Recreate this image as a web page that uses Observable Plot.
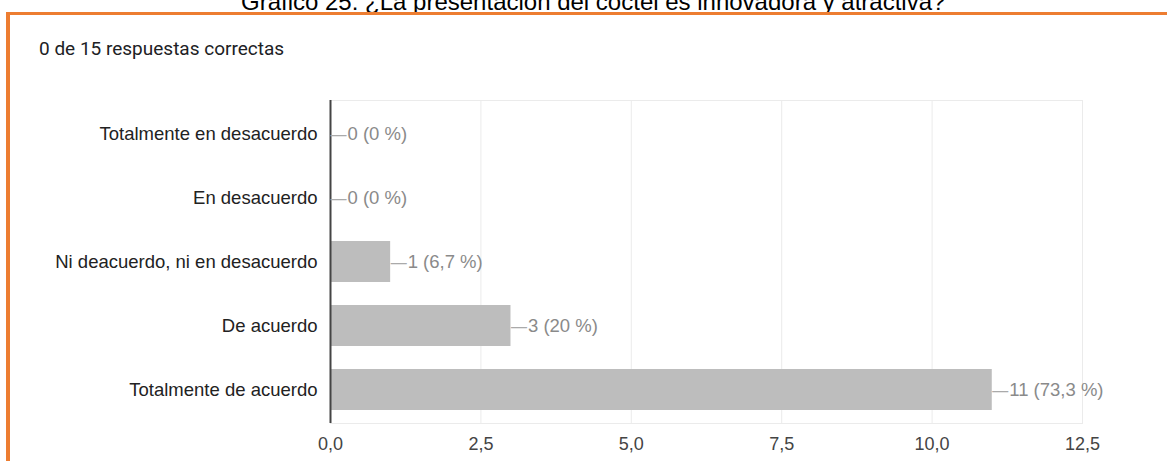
<!DOCTYPE html>
<html>
<head>
<meta charset="utf-8">
<script src="https://cdn.jsdelivr.net/npm/d3@7"></script>
<script src="https://cdn.jsdelivr.net/npm/@observablehq/plot@0.6"></script>
<style>
  html, body { margin: 0; padding: 0; background: #fff; }
  #wrap { position: relative; width: 1167px; height: 461px; overflow: hidden; }
  #title { position: absolute; left: 241px; top: -10px; font-family: "Liberation Sans", Arial, sans-serif; font-size: 24px; line-height: 1; color: #000; white-space: nowrap; }
  #border { position: absolute; left: 6px; top: 11.5px; width: 1300px; height: 500px; border-left: 4px solid #ed7d31; border-top: 3.5px solid #ed7d31; box-sizing: border-box; }
  #sub { position: absolute; left: 39px; top: 39px; font-family: Roboto, "Noto Sans", sans-serif; font-size: 19px; line-height: 1; color: #202124; white-space: nowrap; }
  #chart { position: absolute; left: 0; top: 0; }
</style>
</head>
<body>
<div id="wrap">
  <div id="title">Gráfico 25: ¿La presentación del cóctel es innovadora y atractiva?</div>
  <div id="border"></div>
  <div id="sub">0 de 15 respuestas correctas</div>
  <div id="chart"></div>
</div>
<script>
const categories = ["Totalmente en desacuerdo", "En desacuerdo", "Ni deacuerdo, ni en desacuerdo", "De acuerdo", "Totalmente de acuerdo"];
const counts = [0, 0, 1, 3, 11];
const percents = ["0 %", "0 %", "6,7 %", "20 %", "73,3 %"];
const xTicks = [0, 2.5, 5, 7.5, 10, 12.5];

const data = categories.map((c, i) => ({category: c, value: counts[i], label: `${counts[i]} (${percents[i]})`}));
const fmt = d => d.toFixed(1).replace(".", ",");

const chart = Plot.plot({
  width: 1167,
  height: 461,
  marginTop: 100,
  marginBottom: 38,
  marginLeft: 330,
  marginRight: 85,
  style: {fontFamily: "'Liberation Sans', Arial, sans-serif", fontSize: "18px", background: "transparent", overflow: "visible"},
  x: {domain: [0, 12.5], label: null},
  y: {domain: categories, paddingInner: 0.36, paddingOuter: 0.18, label: null},
  marks: [
    Plot.ruleX(xTicks, {stroke: "#ebebeb", strokeWidth: 1}),
    Plot.frame({stroke: "#ebebeb"}),
    Plot.barX(data, {y: "category", x: "value", fill: "#bdbdbd"}),
    Plot.ruleX([0], {stroke: "#444", strokeWidth: 2}),
    Plot.axisX({ticks: xTicks, tickFormat: fmt, tickSize: 0, tickPadding: 14, fill: "#444", fontSize: 18, label: null}),
    Plot.axisY({tickSize: 0, tickPadding: 13, fill: "#222", fontSize: 18.5, label: null}),
    Plot.text(data, {y: "category", x: "value", text: () => "—", textAnchor: "start", fill: "#aaaaaa", fontSize: 16, dy: 1}),
    Plot.text(data, {y: "category", x: "value", text: "label", textAnchor: "start", dx: 17, fill: "#8a8a8a", fontSize: 18.5})
  ]
});
document.getElementById("chart").appendChild(chart);
</script>
</body>
</html>
